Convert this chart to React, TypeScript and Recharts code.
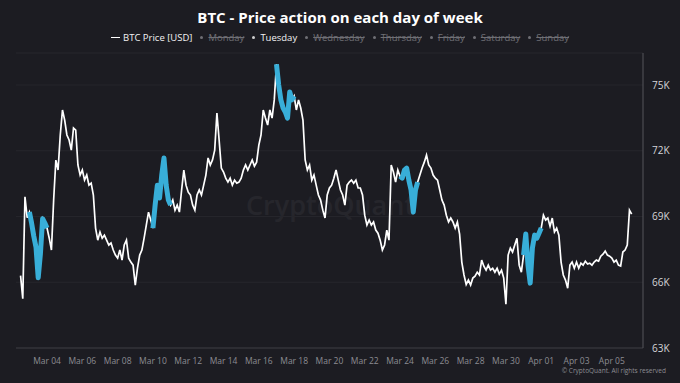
import { LineChart, Line, XAxis, YAxis, CartesianGrid } from "recharts";

// hours counted from Mar 01 2026 00:00 (a Sunday), one price every 3 hours
const START_HOUR = 36; // Mar 02 12:00
const STEP_HOURS = 3;

const week1 = [
  66300, 65250, 69900, 68950,
  69200, 68700, 68100, 67600, 66200, 67300, 68900, 68700,
  68470, 68010, 67470, 69750, 71575, 71120, 72720, 73860,
  73400, 72720, 72490, 72030, 73040, 72945, 71350, 70890,
  71120, 70660, 70890, 70430, 70520, 69980, 68470, 67920,
  68290, 68010, 68150, 67920, 67700, 67790, 67470, 67240,
  67100, 67470, 67010, 67700, 67920, 67100, 66920, 66780,
];
const week2 = [
  65870, 66640, 67240, 67470, 68010, 68610, 69200, 68840,
  68470, 69520, 70430, 69840, 70890, 71670, 70430, 69750,
  69520, 69750, 69290, 69520, 69200, 70210, 71120, 70430,
  70110, 69980, 69520, 69290, 69980, 70210, 69980, 70430,
  70890, 71670, 71350, 71580, 72030, 73720, 72490, 71210,
  71030, 70750, 70570, 70750, 70430, 70660, 70520, 70570,
  70750, 71120, 71350, 71120, 71350, 71580, 71300, 71480,
];
const week3 = [
  72260, 72720, 73860, 73490, 73170, 73860, 73490, 74320,
  75950, 75000, 74320, 73950, 73770, 73490, 74680, 74320,
  74500, 73860, 74320, 73950, 73400, 71580, 71120, 71350,
  70660, 70890, 70430, 69980, 69750, 69290, 68930, 69980,
  70300, 70430, 70750, 71120, 70660, 70210, 69980, 69520,
  70430, 70570, 70660, 70520, 70660, 70300, 70300, 69980,
  69060, 68610, 68840, 68610, 68750, 68380, 68240, 67920,
];
const week4 = [
  67470, 67700, 68380, 67920, 71350, 71030, 70570, 71120,
  70840, 70750, 71120, 71210, 70660, 70210, 69200, 70210,
  70570, 70890, 71210, 71480, 71800, 71350, 71210, 70890,
  70750, 70660, 70210, 69750, 69520, 69060, 68750, 68930,
  68750, 68470, 68750, 68200, 66920, 66330, 65900, 66100,
  65870, 66190, 66280, 66460, 66330, 67010, 66730, 66550,
  66780, 66550, 66640, 66460, 66640, 66370, 66550, 66190,
];
const week5 = [
  65000, 67240, 67560, 67380, 67700, 68010, 66780, 66460,
  67240, 68200, 66780, 65960, 67560, 68150, 68010, 68240,
  68470, 69060, 68840, 68930, 68560, 68930, 68290, 68470,
  68150, 66920, 66330, 66100, 65730, 66780, 66920, 66640,
  66920, 66640, 66870, 66780, 66960, 66830, 66870, 66780,
  66920, 67010, 66960, 67190, 67280, 67420, 67240, 67190,
  67100, 66920, 67010, 66780, 66740, 67380, 67470, 67700,
  69290, 69110,
];

const prices = [...week1, ...week2, ...week3, ...week4, ...week5];

const xTickLabels = [
  "Mar 04", "Mar 06", "Mar 08", "Mar 10", "Mar 12", "Mar 14", "Mar 16", "Mar 18", "Mar 20",
  "Mar 22", "Mar 24", "Mar 26", "Mar 28", "Mar 30", "Apr 01", "Apr 03", "Apr 05",
];
const yTicks = [63000, 66000, 69000, 72000, 75000];
const weekDays = ["Monday", "Tuesday", "Wednesday", "Thursday", "Friday", "Saturday", "Sunday"];
const shownDay = "Tuesday";

const TUESDAY = 2; // day index % 7, Sunday = 0
const xTicks = xTickLabels.map((_, i) => 72 + i * 48);

const rows = prices.map((price, i) => {
  const t = START_HOUR + i * STEP_HOURS;
  const day = Math.floor(t / 24);
  // keep the midnight point after a Tuesday so the blue segment closes
  const isTue = day % 7 === TUESDAY || (t % 24 === 0 && (day - 1) % 7 === TUESDAY);
  return { t, price, tue: isTue ? price : null };
});

const BG = "#1c1c22";
const BLUE = "#38aed8";

function LegendRow() {
  return (
    <div
      style={{
        position: "absolute",
        top: 31,
        left: 0,
        width: 680,
        display: "flex",
        justifyContent: "center",
        alignItems: "center",
        gap: 8,
        fontSize: 9.5,
        fontFamily: "'Open Sans', sans-serif",
      }}
    >
      <span style={{ display: "flex", alignItems: "center", color: "#f2f2f2" }}>
        <span style={{ width: 9, height: 1.5, background: "#fff", marginRight: 3 }} />
        BTC Price [USD]
      </span>
      {weekDays.map((d) => {
        const on = d === shownDay;
        return (
          <span
            key={d}
            style={{
              display: "flex",
              alignItems: "center",
              color: on ? "#f2f2f2" : "#6f6f75",
              textDecoration: on ? "none" : "line-through",
            }}
          >
            <span
              style={{
                width: 3,
                height: 3,
                borderRadius: 2,
                background: on ? "#cfcfcf" : "#6f6f75",
                marginRight: 5,
              }}
            />
            {d}
          </span>
        );
      })}
    </div>
  );
}

export default function App() {
  return (
    <div
      style={{
        position: "absolute",
        left: 0,
        top: 0,
        width: 680,
        height: 383,
        background: BG,
        overflow: "hidden",
        fontFamily: "'Open Sans', sans-serif",
      }}
    >
      <div
        style={{
          position: "absolute",
          top: 7,
          width: 680,
          textAlign: "center",
          color: "#fff",
          fontWeight: 700,
          fontSize: 15,
        }}
      >
        BTC - Price action on each day of week
      </div>
      <LegendRow />
      <div
        style={{
          position: "absolute",
          left: 246,
          top: 186,
          fontSize: 27,
          color: "#fff",
          opacity: 0.045,
          fontWeight: 600,
        }}
      >
        CryptoQuant
      </div>
      <LineChart
        width={680}
        height={383}
        data={rows}
        margin={{ top: 53, right: 0, bottom: 0, left: 16 }}
      >
        <CartesianGrid stroke="#26262c" vertical={false} />
        <XAxis
          dataKey="t"
          type="number"
          domain={[29.8, 882.4]}
          ticks={xTicks}
          tickFormatter={(v: number) => xTickLabels[xTicks.indexOf(v)] ?? ""}
          height={35}
          axisLine={{ stroke: "#3a3a40" }}
          tickLine={false}
          tick={{ fill: "#8c8c92", fontSize: 8.5 }}
          tickMargin={4}
          interval={0}
        />
        <YAxis
          orientation="right"
          width={37}
          domain={[63000, 76460]}
          ticks={yTicks}
          tickFormatter={(v: number) => `${v / 1000}K`}
          axisLine={{ stroke: "#55555b" }}
          tickLine={false}
          tick={{ fill: "#d4d4d8", fontSize: 10 }}
          tickMargin={3}
        />
        <Line
          dataKey="price"
          type="linear"
          stroke="#ffffff"
          strokeWidth={1.7}
          dot={false}
          isAnimationActive={false}
        />
        <Line
          dataKey="tue"
          type="linear"
          stroke={BLUE}
          strokeWidth={5}
          strokeLinejoin="round"
          dot={false}
          connectNulls={false}
          isAnimationActive={false}
        />
      </LineChart>
      <div
        style={{
          position: "absolute",
          right: 14,
          top: 366,
          fontSize: 6.5,
          color: "#8c8c92",
        }}
      >
        © CryptoQuant. All rights reserved
      </div>
    </div>
  );
}
